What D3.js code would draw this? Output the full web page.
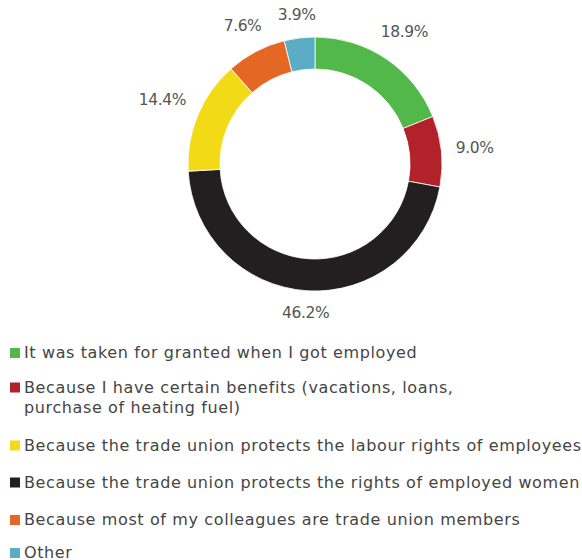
<!DOCTYPE html>
<html><head><meta charset="utf-8">
<script src="https://cdn.jsdelivr.net/npm/d3@7"></script>
<style>
html,body{margin:0;padding:0;background:#fff;}
svg{display:block;}
text{font-family:"DejaVu Sans","Noto Sans",sans-serif;}
</style></head>
<body>
<svg id="chart" width="582" height="560"></svg>
<script>
// slices in clockwise order from 12 o'clock
const categories = [
  "It was taken for granted when I got employed",
  "Because I have certain benefits (vacations, loans,|purchase of heating fuel)",
  "Because the trade union protects the rights of employed women",
  "Because the trade union protects the labour rights of employees",
  "Because most of my colleagues are trade union members",
  "Other"
];
const values = [18.9, 9.0, 46.2, 14.4, 7.6, 3.9];
const valueLabels = ["18.9%", "9.0%", "46.2%", "14.4%", "7.6%", "3.9%"];
const colors = ["#53b84a", "#b2222b", "#231f20", "#f2db16", "#e56724", "#5badc6"];
// order of entries in the legend (indexes into categories)
const legendOrder = [0, 1, 3, 2, 4, 5];

const svg = d3.select("#chart");
const cx = 315, cy = 164, rOuter = 127, rInner = 95;
const g = svg.append("g").attr("transform", `translate(${cx},${cy})`);

const pie = d3.pie().sort(null).value(d => d);
const arcs = pie(values);
const arc = d3.arc().innerRadius(rInner).outerRadius(rOuter);

g.selectAll("path").data(arcs).join("path")
  .attr("d", arc)
  .attr("fill", (d, i) => colors[i])
  .attr("stroke", "#fff")
  .attr("stroke-width", 0.8);

// labels
const labelR = 141;
const lbl = g.selectAll("text.lbl").data(arcs).join("text")
  .attr("class", "lbl")
  .attr("text-anchor", "middle")
  .attr("dominant-baseline", "central")
  .attr("fill", "#555")
  .attr("font-size", 15.5)
  .attr("letter-spacing", -0.4)
  .text((d, i) => valueLabels[i]);
lbl.each(function(d) {
  const a = (d.startAngle + d.endAngle) / 2;
  const s = Math.sin(a), c = Math.cos(a);
  const bb = this.getBBox();
  const w = bb.width, h = bb.height * 0.75;
  const r = labelR + Math.abs(s) * w / 2 + Math.abs(c) * h / 2;
  d3.select(this).attr("x", r * s).attr("y", -r * c);
});

// legend
const baselines = [358, 392.5, 450.5, 487.5, 525, 558];
const legend = svg.append("g");
legendOrder.forEach((ci, i) => {
  const y = baselines[i];
  legend.append("rect")
    .attr("x", 10).attr("y", y - 10)
    .attr("width", 10).attr("height", 10)
    .attr("fill", colors[ci]);
  const t = legend.append("text")
    .attr("x", 24).attr("y", y)
    .attr("fill", "#454545")
    .attr("font-size", 16)
    .attr("letter-spacing", 0.62);
  categories[ci].split("|").forEach((line, j) => {
    t.append("tspan").attr("x", 24).attr("dy", j === 0 ? 0 : 20.5).text(line);
  });
});
</script>
</body></html>
